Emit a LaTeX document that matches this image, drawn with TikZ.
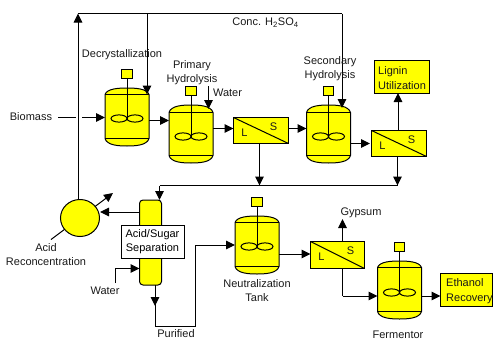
\documentclass[tikz,border=0pt]{standalone}
\usepackage{fontspec}
\setmainfont{Liberation Sans}
\usetikzlibrary{arrows.meta,calc,shapes.geometric}
\definecolor{vy}{RGB}{255,255,0}
\tikzset{
  lw/.style={line width=1pt,black},
  flow/.style={lw,-{Triangle[length=9pt,width=8.5pt]},shorten >=0pt},
  plain/.style={lw},
  lbl/.style={font=\fontsize{11}{14}\selectfont,inner sep=0pt,align=center,text=black!90},
  boxl/.style={draw,lw,fill=vy,inner sep=0pt,outer sep=0pt},
  boxt/.style={font=\fontsize{11}{14.5}\selectfont,inner sep=0pt,align=left,anchor=west,text=black!90},
  ghost/.style={inner sep=0pt,outer sep=0pt},
}
% name, cx, dometop, bodytop, bodybot, domebot, boxtop, impy
\newcommand{\reactorv}[8]{%
  \node[ghost,minimum width=44pt,minimum height={(#6-#3)*1pt}] (#1) at (#2,{(#3+#6)/2}) {};
  \draw[lw,fill=vy] ({#2-22},#4) .. controls ({#2-20},{#3+0.5}) and ({#2-8},#3) .. (#2,#3)
     .. controls ({#2+8},#3) and ({#2+20},{#3+0.5}) .. ({#2+22},#4)
     -- ({#2+22},#5) .. controls ({#2+20},{#6-0.5}) and ({#2+8},#6) .. (#2,#6)
     .. controls ({#2-8},#6) and ({#2-20},{#6-0.5}) .. ({#2-22},#5) -- cycle;
  \draw[lw] ({#2-22},#4) -- ({#2+22},#4) ({#2-22},#5) -- ({#2+22},#5);
  \node[draw,lw,fill=vy,minimum width=10.5pt,minimum height=9.5pt,inner sep=0pt,outer sep=0pt] (#1m) at (#2,{#7+5}) {};
  \draw[lw] (#1m.south) -- (#2,#8);
  \draw[lw] ({#2-8},#8) ellipse (8 and 3.6) ({#2+8},#8) ellipse (8 and 3.6);
}
% name, x1, y1, x2, y2
\newcommand{\filterv}[5]{%
  \node[draw,lw,fill=vy,minimum width={(#4-#2)*1pt},minimum height={(#5-#3)*1pt},inner sep=0pt,outer sep=0pt] (#1) at ({(#2+#4)/2},{(#3+#5)/2}) {};
  \draw[lw] (#1.north west) -- (#1.south east);
  \node[lbl] (#1l) at ({#2+11},{#3+15}) {L};
  \node[lbl] (#1s) at ({#2+40},{#3+9}) {S};
}
\begin{document}
\begin{tikzpicture}[x=1pt,y=-1pt]
\useasboundingbox (0,0) rectangle (493,343);
% vessels
\reactorv{ra}{127}{88}{94.5}{138.5}{146}{69}{118.5}
\reactorv{rb}{191}{105}{112.5}{155.5}{163}{86}{136.5}
\reactorv{rc}{328.5}{105}{112.5}{155.5}{163}{86}{136.5}
\reactorv{rd}{257}{216}{222.5}{266.5}{274}{197}{246.5}
\reactorv{re}{399.5}{261}{267.5}{311.5}{319}{242}{292.5}
% filters
\filterv{fa}{233.5}{117.5}{288.5}{143.5}
\filterv{fb}{371.5}{130.5}{426.5}{156.5}
\filterv{fc}{310.5}{241.5}{364.5}{268.5}
% boxes
\node[boxl,minimum width=55pt,minimum height=33pt] (lig) at (401.5,76.5) {};
\node[boxt] (ligt) at (378,78) {Lignin\\Utilization};
\node[boxl,minimum width=52pt,minimum height=33pt] (eth) at (466.5,289.5) {};
\node[boxt] (etht) at (446,291) {Ethanol\\Recovery};
% column
\node[draw,lw,fill=vy,rounded corners=3.5pt,minimum width=22pt,minimum height=85pt,inner sep=0pt,outer sep=0pt] (col) at (150.5,242.5) {};
\node[draw,lw,fill=white,minimum width=63pt,minimum height=33pt,inner sep=0pt,outer sep=0pt,font=\fontsize{11}{14}\selectfont,align=center] (sep) at (152.5,241.5) {Acid/Sugar\\Separation};
% acid reconcentration
\coordinate (hxa) at (51,239.5);
\coordinate (hxb) at (113,193);
\draw[flow] (hxa) -- (hxb);
\node[draw,lw,fill=vy,ellipse,minimum width=39pt,minimum height=37pt,inner sep=0pt,outer sep=0pt] (acid) at (80,218) {};
% free ends and bends
\coordinate (topl) at (78,13.5);
\coordinate (topr) at (342,13.5);
\coordinate (brn) at (147,13.5);
\coordinate (bio) at (58,117.5);
\coordinate (gapa) at (75.5,117.5);
\coordinate (gapb) at (82,117.5);
\coordinate (wa) at (208.5,86);
\coordinate (wb) at (115,283);
\coordinate (wbb) at (115,268.5);
\coordinate (busr) at (397.5,185.5);
\coordinate (busl) at (159.5,185.5);
\coordinate (busm) at (259.5,185.5);
\coordinate (pa) at (155,326.5);
\coordinate (pb) at (195.5,326.5);
\coordinate (pc) at (195.5,245);
\coordinate (fcb) at (342.5,296);
\coordinate (gyp) at (342.5,219);
% connectors
\draw[flow] (acid.north -| topl) -- (topl);
\draw[plain] (topl) -- (topr);
\draw[flow] (topr) -- ($(rc.north -| topr)+(0,3)$);
\draw[flow] (brn) -- (147,94.5);
\draw[plain] (bio) -- (gapa);
\draw[flow] (gapb) -- (ra.west |- gapb);
\draw[flow] (ra.east |- 0,120.5) -- (rb.west |- 0,120.5);
\draw[flow] (wa) -- (208.5,109);
\draw[flow] (rb.east |- 0,128.5) -- (fa.west |- 0,128.5);
\draw[flow] (fa.east |- 0,128.5) -- (rc.west |- 0,128.5);
\draw[flow] (fa.south -| busm) -- (busm);
\draw[flow] (rc.east |- 0,143.5) -- (370,143.5);
\draw[flow] (fb.north -| 398,0) -- (lig.south -| 398,0);
\draw[flow] (fb.south -| busr) -- (busr);
\draw[plain] (busr) -- (busl);
\draw[flow] (busl) -- (col.north -| busl);
\draw[flow] (col.west |- 0,212) -- (100,212);
\draw[plain] (wb) -- (wbb);
\draw[flow] (wbb) -- (col.west |- wbb);
\draw[flow] (col.south -| pa) -- (155,306);
\draw[plain] (155,300) -- (pa) -- (pb) -- (pc);
\draw[flow] (pc) -- (rd.west |- pc);
\draw[flow] (rd.east |- 0,254) -- (fc.west |- 0,254);
\draw[flow] (fc.north -| gyp) -- (gyp);
\draw[plain] (fc.south -| fcb) -- (fcb);
\draw[flow] (fcb) -- (re.west |- fcb);
\draw[flow] (re.east |- 0,296) -- (eth.west |- 0,296);
% labels
\node[lbl] (t1) at (31,117) {Biomass};
\node[lbl] (t2) at (265.5,22.5) {Conc. H\textsubscript{2}SO\textsubscript{4}};
\node[lbl] (t3) at (122,55) {Decrystallization};
\node[lbl] (t4) at (192,72.5) {Primary\\Hydrolysis};
\node[lbl] (t5) at (227.5,93) {Water};
\node[lbl] (t6) at (330,68.5) {Secondary\\Hydrolysis};
\node[lbl] (t7) at (46,255) {Acid\\Reconcentration};
\node[lbl] (t8) at (105,291) {Water};
\node[lbl] (t9) at (176,334) {Purified};
\node[lbl] (t10) at (257,291) {Neutralization\\Tank};
\node[lbl] (t11) at (361,213) {Gypsum};
\node[lbl] (t12) at (398,335) {Fermentor};
\end{tikzpicture}
\end{document}
